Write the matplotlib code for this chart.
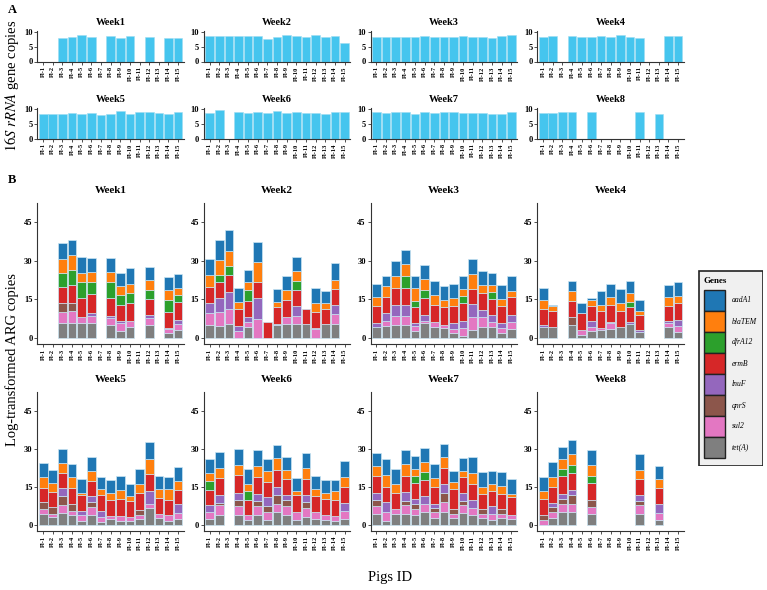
import numpy as np
import matplotlib
matplotlib.use("Agg")
import matplotlib.pyplot as plt
from matplotlib.patches import Rectangle

plt.rcParams['font.family'] = ['Liberation Serif', 'DejaVu Serif']
plt.rcParams['mathtext.fontset'] = 'stix'

# ---------------- data ----------------
pigs = [f"Pl-{i}" for i in range(1, 16)]
weeks = [f"Week{i}" for i in range(1, 9)]

# Panel A: 16S rRNA gene copies (log), 0 = not available
rrna_week1 = [0, 0, 7.9, 8.3, 8.7, 8.3, 0, 8.5, 7.9, 8.6, 0, 8.3, 0, 7.9, 8.0]
rrna_week2 = [8.6, 8.5, 8.4, 8.4, 8.4, 8.4, 7.5, 8.3, 8.8, 8.6, 8.1, 8.8, 8.2, 8.4, 6.2]
rrna_week3 = [8.2, 8.1, 8.3, 8.3, 8.1, 8.5, 8.3, 8.3, 8.1, 8.6, 8.1, 8.2, 7.9, 8.5, 8.8]
rrna_week4 = [8.1, 8.4, 0, 8.4, 8.2, 8.1, 8.5, 8.3, 8.8, 8.3, 7.7, 0, 0, 8.5, 8.5]
rrna_week5 = [8.1, 8.3, 8.1, 8.5, 8.3, 8.6, 7.9, 8.2, 9.1, 8.1, 8.8, 9.0, 8.5, 8.3, 8.8]
rrna_week6 = [8.5, 9.4, 0, 8.7, 8.5, 8.9, 8.4, 9.1, 8.6, 8.7, 8.5, 8.5, 8.3, 8.8, 9.0]
rrna_week7 = [8.7, 8.5, 8.8, 8.8, 8.3, 8.8, 8.5, 8.7, 9.0, 8.6, 8.6, 8.5, 8.1, 8.3, 8.7]
rrna_week8 = [8.5, 8.4, 9.0, 8.8, 0, 8.7, 0, 0, 0, 0, 8.7, 0, 8.3, 0, 0]

# Panel B: genes (stack order bottom -> top) and legend order
stack_genes = ["tet(A)", "sul2", "qnrS", "lnuF", "ermB", "dfrA12", "blaTEM", "aadA1"]
legend_genes = ["aadA1", "blaTEM", "dfrA12", "ermB", "lnuF", "qnrS", "sul2", "tet(A)"]
gene_colors = {"aadA1": "#1f77b4", "blaTEM": "#ff7f0e", "dfrA12": "#2ca02c",
               "ermB": "#d62728", "lnuF": "#9467bd", "qnrS": "#8c564b",
               "sul2": "#e377c2", "tet(A)": "#7f7f7f"}

# cumulative tops, per pig, in stack_genes order (None = no sample)
arg_week1 = [None, None,
             [5.5, 9.9, 13.5, 13.5, 19.7, 25.2, 30.5, 36.9],
             [5.8, 10.3, 13.5, 13.5, 20.6, 26.5, 32.2, 38.2],
             [5.5, 7.9, 7.9, 7.9, 15.5, 21.6, 25.2, 31.3],
             [5.5, 8.6, 8.6, 9.6, 17.1, 21.6, 25.6, 30.9],
             None,
             [5.1, 7.7, 7.7, 8.6, 15.6, 21.6, 25.6, 31.2],
             [2.7, 5.7, 5.7, 6.6, 12.9, 16.8, 20.0, 25.2],
             [4.3, 6.6, 6.6, 6.6, 13.5, 17.4, 21.0, 27.3],
             None,
             [4.9, 7.7, 7.7, 8.7, 15.1, 18.7, 22.5, 27.5],
             None,
             [1.6, 3.4, 3.4, 3.8, 9.9, 14.8, 18.7, 23.5],
             [2.9, 5.3, 5.3, 6.8, 13.9, 16.5, 19.2, 24.8]]
arg_week2 = [[4.8, 9.7, 9.7, 13.3, 19.7, 19.7, 24.5, 30.8],
             [4.4, 10.1, 10.1, 15.4, 21.8, 24.4, 30.4, 38.1],
             [5.2, 11.0, 11.0, 17.9, 24.6, 27.8, 33.9, 41.8],
             [0.0, 2.6, 2.6, 4.4, 11.3, 11.3, 13.9, 19.3],
             [4.3, 6.0, 6.0, 7.9, 14.2, 18.7, 21.8, 26.3],
             [0.0, 7.1, 7.1, 15.5, 21.8, 21.8, 29.4, 37.4],
             [0.0, 0.0, 0.0, 0.0, 6.0, 6.0, 6.0, 6.0],
             [4.8, 4.8, 4.8, 5.4, 11.8, 11.8, 13.9, 18.8],
             [5.2, 8.0, 8.0, 8.0, 14.5, 14.5, 18.4, 24.0],
             [5.2, 8.4, 8.4, 12.2, 18.7, 22.0, 26.0, 31.5],
             [5.4, 5.4, 5.4, 5.4, 11.0, 11.0, 11.0, 11.0],
             [0.0, 3.2, 3.2, 3.6, 10.1, 10.1, 13.6, 19.2],
             [5.2, 5.2, 5.2, 5.2, 11.0, 11.0, 13.3, 18.3],
             [5.4, 9.3, 9.3, 12.6, 18.8, 18.8, 22.5, 29.1],
             None]
arg_week3 = [[4.2, 4.2, 4.2, 5.5, 12.5, 12.5, 15.8, 21.0],
             [4.7, 6.4, 6.4, 9.6, 15.7, 15.7, 20.0, 24.2],
             [5.1, 8.6, 8.6, 12.6, 19.4, 19.4, 24.2, 29.9],
             [5.1, 8.3, 8.3, 12.6, 19.4, 23.9, 28.7, 34.3],
             [2.6, 4.4, 4.4, 5.7, 11.9, 14.4, 19.4, 23.9],
             [5.5, 6.6, 6.6, 8.7, 15.5, 18.4, 22.9, 28.3],
             [4.2, 6.1, 6.1, 6.1, 12.9, 12.9, 16.5, 21.9],
             [3.9, 5.1, 5.1, 5.1, 11.8, 11.8, 14.8, 20.0],
             [1.7, 3.5, 3.5, 5.6, 12.2, 12.2, 15.5, 20.9],
             [0.8, 3.8, 3.8, 6.6, 13.5, 16.1, 19.1, 23.9],
             [2.9, 7.9, 7.9, 13.2, 19.1, 19.1, 24.8, 30.5],
             [4.3, 8.2, 8.2, 10.9, 17.4, 17.4, 20.5, 26.1],
             [4.0, 6.2, 6.2, 8.7, 15.1, 17.7, 20.6, 25.3],
             [1.6, 3.9, 3.9, 5.7, 12.2, 12.2, 15.2, 20.6],
             [3.5, 6.2, 6.2, 8.7, 15.7, 15.7, 18.3, 24.2]]
arg_week4 = [[4.2, 4.2, 4.2, 5.1, 11.3, 11.3, 14.8, 19.4],
             [4.2, 4.2, 4.2, 4.2, 10.5, 10.5, 12.2, 12.9],
             None,
             [4.8, 4.8, 8.1, 8.1, 14.4, 14.4, 18.1, 22.1],
             [1.2, 3.1, 3.1, 3.1, 9.6, 9.6, 9.6, 13.5],
             [2.5, 4.2, 4.2, 6.4, 12.3, 12.3, 14.8, 15.6],
             [2.9, 3.6, 3.6, 3.6, 10.3, 10.3, 12.6, 18.1],
             [3.4, 5.5, 5.5, 6.1, 12.9, 12.9, 15.7, 20.9],
             [4.3, 4.3, 4.3, 4.3, 10.5, 10.5, 13.5, 18.8],
             [5.3, 5.3, 5.3, 6.1, 11.9, 14.0, 17.4, 21.9],
             [2.3, 2.3, 2.3, 2.9, 8.7, 8.7, 10.5, 14.8],
             None,
             None,
             [4.3, 5.5, 5.5, 6.4, 12.2, 12.2, 15.8, 20.6],
             [2.3, 4.5, 4.5, 7.0, 13.5, 13.5, 16.1, 21.8]]
arg_week5 = [[4.3, 6.3, 9.1, 9.1, 14.7, 14.7, 18.8, 24.3],
             [3.0, 4.4, 7.0, 7.0, 12.9, 12.9, 16.6, 21.6],
             [4.7, 7.6, 11.2, 14.5, 20.3, 20.3, 24.6, 29.9],
             [3.8, 5.3, 8.3, 8.3, 14.5, 14.5, 18.8, 24.0],
             [1.4, 3.7, 3.7, 5.3, 11.7, 11.7, 12.5, 18.1],
             [4.0, 7.0, 9.0, 11.5, 17.3, 17.3, 21.1, 26.7],
             [0.9, 3.1, 3.1, 5.5, 11.6, 11.6, 14.2, 19.0],
             [2.1, 3.4, 3.4, 3.4, 9.9, 9.9, 12.5, 17.5],
             [1.4, 3.3, 3.3, 3.3, 10.0, 10.0, 13.8, 19.4],
             [1.4, 2.9, 2.9, 2.9, 9.5, 9.5, 11.5, 15.9],
             [2.1, 4.0, 6.0, 6.0, 12.5, 12.5, 15.9, 21.9],
             [6.5, 8.2, 8.2, 13.4, 20.2, 20.2, 26.1, 32.7],
             [2.7, 4.4, 4.4, 4.4, 10.6, 10.6, 14.1, 19.3],
             [1.6, 3.8, 3.8, 3.8, 9.9, 9.9, 14.3, 18.8],
             [2.1, 4.7, 4.7, 8.0, 13.7, 13.7, 17.3, 22.9]]
arg_week6 = [[2.3, 5.2, 5.2, 7.7, 13.8, 17.4, 20.6, 26.0],
             [4.0, 7.6, 8.6, 11.7, 18.6, 18.6, 22.5, 28.6],
             None,
             [3.9, 7.3, 9.9, 12.5, 19.7, 19.7, 23.8, 29.9],
             [1.8, 3.9, 3.9, 3.9, 9.9, 13.2, 16.1, 22.1],
             [4.0, 7.3, 9.2, 12.1, 19.0, 19.0, 23.4, 29.7],
             [1.8, 5.1, 7.3, 10.8, 16.9, 16.9, 21.2, 26.0],
             [5.2, 8.2, 11.8, 14.8, 21.7, 21.7, 26.2, 31.4],
             [4.0, 7.3, 9.9, 11.6, 18.2, 18.2, 21.6, 26.7],
             [1.7, 4.9, 4.9, 4.9, 11.7, 11.7, 13.4, 18.4],
             [3.0, 6.6, 9.1, 11.8, 18.1, 18.1, 22.3, 28.4],
             [2.1, 5.1, 5.1, 5.1, 11.2, 11.2, 14.3, 19.3],
             [1.8, 3.8, 3.8, 3.8, 10.2, 10.2, 12.5, 17.8],
             [1.6, 3.4, 3.4, 3.4, 9.6, 9.6, 13.4, 17.6],
             [2.3, 5.5, 5.5, 8.6, 15.1, 15.1, 18.8, 25.3]]
arg_week7 = [[4.4, 7.3, 9.6, 12.6, 19.3, 19.3, 23.2, 28.4],
             [1.3, 5.1, 5.1, 8.9, 15.1, 15.1, 19.7, 26.1],
             [4.4, 6.3, 6.3, 6.3, 12.5, 12.5, 16.2, 21.9],
             [4.4, 7.7, 9.3, 13.0, 19.4, 19.4, 23.9, 29.5],
             [3.9, 6.3, 8.3, 10.3, 16.3, 19.2, 22.0, 27.2],
             [5.0, 8.3, 8.3, 11.2, 17.7, 21.0, 24.9, 30.4],
             [2.5, 5.1, 6.6, 8.3, 15.0, 15.0, 18.5, 24.1],
             [5.2, 8.9, 12.6, 16.2, 22.6, 22.6, 26.7, 31.8],
             [2.7, 4.4, 6.4, 6.4, 14.1, 14.1, 16.9, 21.4],
             [4.6, 7.6, 9.5, 12.4, 19.0, 19.0, 21.4, 26.2],
             [3.9, 6.6, 6.6, 9.9, 16.2, 16.2, 20.5, 26.6],
             [2.5, 4.3, 6.1, 6.1, 12.1, 12.1, 15.1, 20.7],
             [1.8, 4.2, 4.2, 7.2, 13.2, 13.2, 16.2, 21.4],
             [2.5, 4.4, 6.3, 6.3, 12.1, 12.1, 15.3, 21.0],
             [2.3, 4.0, 4.0, 4.0, 11.0, 11.0, 12.0, 18.0]]
arg_week8 = [[0.0, 1.7, 3.8, 3.8, 10.3, 10.3, 13.2, 18.8],
             [2.6, 5.0, 6.9, 8.6, 15.1, 15.1, 18.8, 25.0],
             [5.1, 8.3, 10.2, 12.0, 19.3, 22.0, 25.8, 30.9],
             [5.1, 8.0, 11.6, 13.8, 20.6, 23.6, 27.8, 33.6],
             None,
             [4.4, 6.8, 9.6, 9.6, 16.3, 19.3, 23.5, 29.5],
             None, None, None, None,
             [4.3, 7.7, 9.5, 11.9, 18.1, 18.1, 21.8, 27.8],
             None,
             [1.8, 4.8, 4.8, 8.0, 14.5, 14.5, 18.0, 23.2],
             None, None]

rrna_all = [rrna_week1, rrna_week2, rrna_week3, rrna_week4,
            rrna_week5, rrna_week6, rrna_week7, rrna_week8]
arg_all = [arg_week1, arg_week2, arg_week3, arg_week4,
           arg_week5, arg_week6, arg_week7, arg_week8]

# ---------------- layout ----------------
W, H = 767, 590
fig = plt.figure(figsize=(W / 100, H / 100), dpi=100)


def px(l, t, w, h):
    return [l / W, 1 - (t + h) / H, w / W, h / H]


col_left = [37.4, 203.8, 370.6, 537.4]
col_w = 146.5
x = np.arange(1, 16)

TICK_FS = 4.6
TITLE_FS = 7.5


def style_axes(ax, yt):
    for s in ["top", "right"]:
        ax.spines[s].set_visible(False)
    for s in ["left", "bottom"]:
        ax.spines[s].set_linewidth(0.8)
        ax.spines[s].set_color("#333333")
    ax.set_xticks(x)
    ax.set_xticklabels(pigs, rotation=90, fontsize=TICK_FS, fontweight="bold")
    ax.set_yticks(yt)
    ax.set_yticklabels([str(v) for v in yt], fontsize=6, fontweight="bold")
    ax.tick_params(axis="both", length=2, width=0.6, pad=1.5, color="#333333")
    ax.set_xlim(0.4, 15.6)


# Panel A
for i in range(8):
    row, col = divmod(i, 4)
    top = 31 if row == 0 else 108
    ax = fig.add_axes(px(col_left[col], top, col_w, 30.5))
    vals = rrna_all[i]
    ax.bar(x, vals, width=0.9, color="#45c5ee", edgecolor="#9fdcf2", linewidth=0.4)
    ax.set_ylim(0, 10.2)
    style_axes(ax, [0, 5, 10])
    ax.set_title(weeks[i], fontsize=TITLE_FS, fontweight="bold", pad=4)

# Panel B
for i in range(8):
    row, col = divmod(i, 4)
    top = 203 if row == 0 else 392
    h = 141 if row == 0 else 139
    ax = fig.add_axes(px(col_left[col], top, col_w, h))
    data = arg_all[i]
    for g_idx, g in enumerate(stack_genes):
        heights, bottoms, xs = [], [], []
        for p_idx, tops in enumerate(data):
            if tops is None:
                continue
            lo = tops[g_idx - 1] if g_idx > 0 else 0.0
            hi = tops[g_idx]
            if hi - lo <= 0:
                continue
            xs.append(x[p_idx])
            bottoms.append(lo)
            heights.append(hi - lo)
        ax.bar(xs, heights, bottom=bottoms, width=0.9, color=gene_colors[g],
               edgecolor="#c9e4f2", linewidth=0.5)
    ax.set_ylim(-2.5, 52.5)
    style_axes(ax, [0, 15, 30, 45])
    ax.set_title(weeks[i], fontsize=TITLE_FS + 0.5, fontweight="bold", pad=7)

# Texts
fig.text(8 / W, 1 - 10 / H, "A", fontsize=9, fontweight="bold", va="center")
fig.text(8 / W, 1 - 180 / H, "B", fontsize=9, fontweight="bold", va="center")
fig.text(12 / W, 1 - 86 / H, r"$\mathit{16S\ rRNA}$ gene copies", rotation=90,
         fontsize=10.5, ha="center", va="center")
fig.text(12 / W, 1 - 360 / H, "Log-transformed ARG copies", rotation=90,
         fontsize=10.5, ha="center", va="center")
fig.text(390 / W, 1 - 578 / H, "Pigs ID", fontsize=10.5, ha="center", va="center")

# Legend (drawn in its own pixel-coordinate axes)
lx, ly, lw, lh = 698, 270, 65, 196
lax = fig.add_axes(px(lx, ly, lw, lh))
lax.set_xlim(0, lw)
lax.set_ylim(lh, 0)
lax.axis("off")
lax.add_patch(Rectangle((0.5, 0.5), lw - 1, lh - 1, facecolor="#f0f0f0",
                        edgecolor="#222222", linewidth=1.2))
lax.text(6, 11, "Genes", fontsize=6.5, fontweight="bold", va="center", ha="left")
key_top, key_h, key_w, key_x = 20, 21, 21, 6
for k, g in enumerate(legend_genes):
    y0 = key_top + k * key_h
    lax.add_patch(Rectangle((key_x, y0), key_w, key_h, facecolor=gene_colors[g],
                            edgecolor="#222222", linewidth=1.0))
    lax.text(key_x + key_w + 7, y0 + key_h / 2, g, fontsize=5.5, style="italic",
             va="center", ha="left")

fig.savefig("out.png", dpi=100)
